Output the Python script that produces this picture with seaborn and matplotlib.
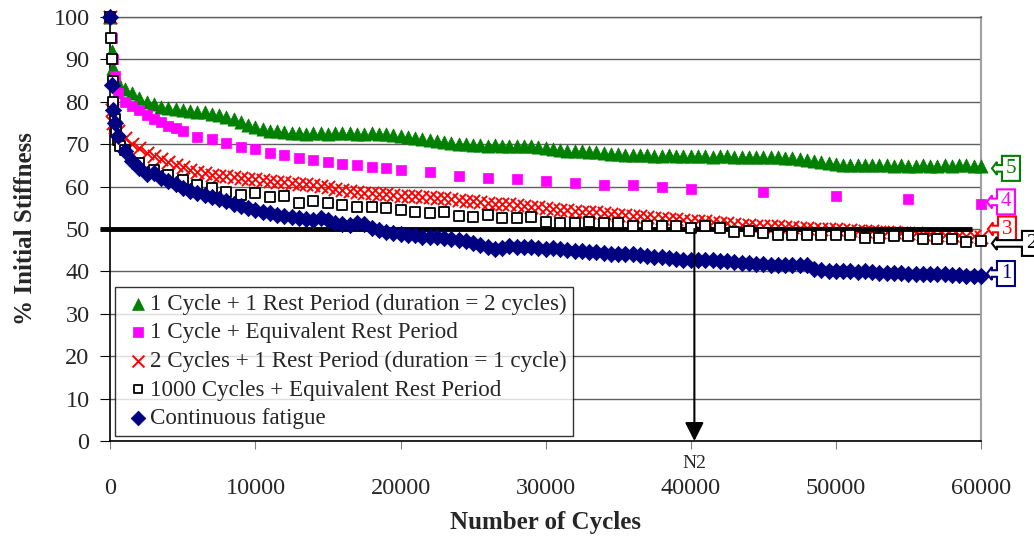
import numpy as np
import matplotlib
matplotlib.use("Agg")
import matplotlib.pyplot as plt
from matplotlib.patches import Polygon
from matplotlib.transforms import IdentityTransform
import seaborn as sns

# cycle grid for the densely sampled tests
early_cycles = [0, 100, 200, 300]
cycles_dense = early_cycles + list(range(500, 60001, 500))

# 1 Cycle + 1 Rest Period (duration = 2 cycles)
green_vals = [100, 92, 88, 86,
              84.5, 83.0, 82.0, 81.0, 80.0, 79.5, 78.8, 78.5, 78.2, 78.0,
              77.8, 77.7, 77.5, 77.2, 77.0, 76.5, 76.0, 75.3, 74.6, 74.0,
              73.5, 73.2, 73.0, 72.8, 72.6, 72.6, 72.5, 72.6, 72.7, 72.5,
              72.6, 72.7, 72.6, 72.5, 72.4, 72.6, 72.5, 72.3, 72.1, 71.9,
              71.7, 71.5, 71.3, 71.1, 70.8, 70.5, 70.3, 70.1, 70.0, 69.8,
              69.7, 69.6, 69.7, 69.6, 69.5, 69.6, 69.5, 69.5, 69.3, 69.0,
              68.8, 68.6, 68.5, 68.4, 68.3, 68.2, 68.1, 67.9, 67.7, 67.6,
              67.5, 67.5, 67.4, 67.5, 67.3, 67.3, 67.4, 67.2, 67.3, 67.2,
              67.2, 67.3, 67.1, 67.2, 67.2, 67.1, 67.0, 67.1, 67.0, 67.0,
              66.9, 66.9, 66.8, 66.7, 66.5, 66.3, 66.1, 65.9, 65.6, 65.4,
              65.2, 65.1, 65.0, 65.1, 65.0, 65.2, 65.0, 64.9, 65.0, 64.9,
              64.9, 65.0, 64.8, 64.9, 65.0, 64.9, 65.0, 65.1, 64.9, 64.8]

# 2 Cycles + 1 Rest Period (duration = 1 cycle)
red_vals = [100, 78, 75, 74,
            73.0, 71.5, 70.0, 69.0, 68.0, 67.2, 66.5, 65.8, 65.2, 64.6,
            64.0, 63.4, 63.1, 62.8, 62.6, 62.4, 62.2, 62.0, 61.8, 61.7,
            61.5, 61.3, 61.1, 61.0, 60.9, 60.7, 60.5, 60.3, 60.1, 59.8,
            59.4, 59.2, 59.0, 58.8, 58.6, 58.5, 58.3, 58.2, 58.0, 57.9,
            57.8, 57.7, 57.6, 57.5, 57.3, 57.2, 57.0, 56.9, 56.7, 56.6,
            56.4, 56.2, 56.0, 55.9, 55.8, 55.6, 55.4, 55.3, 55.1, 54.9,
            54.7, 54.5, 54.4, 54.3, 54.1, 54.0, 53.9, 53.7, 53.5, 53.4,
            53.2, 53.1, 53.0, 52.8, 52.7, 52.6, 52.4, 52.3, 52.1, 52.0,
            51.9, 51.8, 51.7, 51.5, 51.3, 51.2, 51.0, 50.9, 50.8, 50.8,
            50.7, 50.6, 50.5, 50.4, 50.3, 50.2, 50.1, 50.0, 49.9, 49.9,
            49.8, 49.7, 49.6, 49.6, 49.5, 49.4, 49.3, 49.2, 49.1, 49.1,
            49.0, 48.9, 48.8, 48.7, 48.6, 48.6, 48.5, 48.4, 48.3, 48.2]

# Continuous fatigue
navy_vals = [100, 84, 78, 75,
             72.0, 68.5, 66.0, 64.5, 63.0, 63.3, 62.0, 61.3, 60.5, 59.7,
             59.0, 58.5, 58.1, 57.5, 57.0, 56.5, 56.0, 55.4, 55.0, 54.5,
             54.1, 53.7, 53.4, 53.1, 52.8, 52.5, 52.4, 52.2, 52.7, 52.1,
             51.4, 51.2, 51.0, 51.3, 51.2, 50.3, 49.8, 49.4, 49.0, 48.8,
             48.6, 48.5, 48.2, 48.0, 48.1, 47.8, 47.6, 47.4, 47.2, 46.6,
             46.2, 45.8, 45.4, 45.6, 46.0, 45.8, 45.8, 45.7, 45.5, 45.4,
             45.5, 45.4, 45.1, 44.8, 44.7, 44.6, 44.5, 44.3, 44.0, 44.1,
             44.2, 44.0, 43.8, 43.6, 43.4, 43.3, 43.1, 43.0, 42.8, 42.7,
             42.8, 42.6, 42.6, 42.5, 42.4, 42.2, 42.0, 41.9, 41.8, 41.7,
             41.6, 41.5, 41.5, 41.4, 41.6, 41.4, 40.6, 40.3, 40.2, 40.1,
             40.0, 40.0, 39.9, 40.0, 39.8, 39.7, 39.7, 39.6, 39.7, 39.5,
             39.5, 39.4, 39.5, 39.3, 39.3, 39.2, 39.1, 39.0, 38.9, 38.8]

# 1 Cycle + Equivalent Rest Period
pink_cycles = [0, 100, 200, 300, 500, 1000, 1500, 2000, 2500, 3000, 3500, 4000,
               4500, 5000, 6000, 7000, 8000, 9000, 10000, 11000, 12000, 13000,
               14000, 15000, 16000, 17000, 18000, 19000, 20000, 22000, 24000,
               26000, 28000, 30000, 32000, 34000, 36000, 38000, 40000, 45000,
               50000, 55000, 60000]
pink_vals = [100, 95, 90, 86, 82, 80, 79, 78, 77, 76, 75.2, 74.4, 73.8, 73.0,
             71.8, 71.2, 70.3, 69.4, 68.8, 67.9, 67.5, 66.7, 66.3, 65.9, 65.3,
             65.0, 64.7, 64.3, 63.9, 63.4, 62.5, 62.1, 61.7, 61.4, 60.8, 60.4,
             60.4, 60.0, 59.4, 58.8, 57.8, 57.0, 56.0]

# 1000 Cycles + Equivalent Rest Period
black_cycles = [0, 50, 100, 150, 200, 300, 400, 500, 700, 1000] + list(range(2000, 60001, 1000))
black_vals = [100, 95, 90, 85, 80, 76, 73, 71, 69.5, 68.6,
              65.5, 64.0, 62.7, 61.6, 60.4, 59.7, 58.8, 58.0, 58.5, 57.5,
              57.8, 56.2, 56.7, 56.2, 55.7, 55.3, 55.3, 54.9, 54.5, 54.1,
              53.7, 54.1, 53.1, 52.9, 53.3, 52.5, 52.5, 52.9, 51.7, 51.5,
              51.3, 51.6, 51.3, 51.3, 50.7, 50.7, 50.6, 50.7, 50.2, 50.7,
              50.2, 49.4, 49.6, 49.0, 48.6, 48.6, 48.6, 48.6, 48.6, 48.6,
              47.8, 47.8, 48.4, 48.4, 47.6, 47.6, 47.6, 47.0, 47.2]

labels = ["1 Cycle + 1 Rest Period (duration = 2 cycles)",
          "1 Cycle + Equivalent Rest Period",
          "2 Cycles + 1 Rest Period (duration = 1 cycle)",
          "1000 Cycles + Equivalent Rest Period",
          "Continuous fatigue"]

threshold = 50
n2_cycles = 40250
callouts = [("5", "#008000", 64.3, 11, 5),
            ("4", "#FF00FF", 56.4, 6, 5),
            ("3", "#FF0000", 50.0, 7, 5),
            ("2", "black", 46.6, 11, 25),
            ("1", "#000080", 39.5, 6, 5)]

sns.set_style("white")
plt.rcParams['font.family'] = ['Liberation Serif', 'DejaVu Serif']

fig = plt.figure(figsize=(10.34, 5.37), dpi=100)
ax = fig.add_axes([0.1067, 0.1788, 0.842, 0.7895])

common = dict(ax=ax, clip_on=False, legend=False)
h_green = sns.scatterplot(x=cycles_dense, y=green_vals, marker="^", s=9.5 ** 2,
                          color="#008000", edgecolor="#008000", linewidth=0.5,
                          zorder=3, **common).collections[-1]
h_pink = sns.scatterplot(x=pink_cycles, y=pink_vals, marker="s", s=7.5 ** 2,
                         color="#FF00FF", edgecolor="#FF00FF", linewidth=0.5,
                         zorder=3.1, **common).collections[-1]
h_red = sns.scatterplot(x=cycles_dense, y=red_vals, marker="x", s=9.5 ** 2,
                        color="#FF0000", linewidth=1.4, zorder=3.2,
                        **common).collections[-1]
h_black = sns.scatterplot(x=black_cycles, y=black_vals, marker="s", s=7 ** 2,
                          color="white", edgecolor="black", linewidth=1.3,
                          zorder=3.4, **common).collections[-1]
h_navy = sns.scatterplot(x=cycles_dense, y=navy_vals, marker="D", s=8.3 ** 2,
                         color="#000080", edgecolor="#000080", linewidth=0.5,
                         zorder=3.5, **common).collections[-1]

# 50 % stiffness line and N2 arrow
ax.plot([-700, 59400], [threshold, threshold], color="black", lw=3.5,
        solid_capstyle="butt", clip_on=False, zorder=3.3)
ax.annotate("", xy=(n2_cycles, 0), xytext=(n2_cycles, threshold),
            arrowprops=dict(arrowstyle="-|>,head_length=0.75,head_width=0.38",
                            color="black", lw=1.5, mutation_scale=15,
                            shrinkA=0, shrinkB=0), zorder=4)
ax.annotate("N2", xy=(n2_cycles, 0), xytext=(0, -16), textcoords="offset points",
            ha="center", va="center", fontsize=14, annotation_clip=False)

ax.set_xlim(0, 60000)
ax.set_ylim(0, 100)
ax.set_xticks(range(0, 60001, 10000))
ax.set_yticks(range(0, 101, 10))
ax.tick_params(axis="x", direction="out", length=6, color="#808080",
               pad=21, labelsize=17.5, bottom=True)
ax.tick_params(axis="y", direction="out", length=7, color="black",
               pad=8, labelsize=17.5, left=True)
ax.yaxis.grid(True, color="#606060", lw=1)
ax.set_axisbelow(True)
for side in ["left", "bottom"]:
    ax.spines[side].set_color("black")
    ax.spines[side].set_linewidth(1.2)
ax.spines["right"].set_color("#a0a0a0")
ax.spines["right"].set_linewidth(1.5)
ax.spines["top"].set_color("#606060")
ax.spines["top"].set_linewidth(1)

ax.set_xlabel("Number of Cycles", fontsize=18, fontweight="bold", labelpad=8)
ax.set_ylabel("% Initial Stiffness", fontsize=18, fontweight="bold", labelpad=12)

leg = ax.legend([h_green, h_pink, h_red, h_black, h_navy], labels,
                loc="lower left", bbox_to_anchor=(0.0054, 0.0118),
                fontsize=16.6, frameon=True, fancybox=False, borderaxespad=0,
                handlelength=1.36, handletextpad=-0.15, labelspacing=0.32,
                borderpad=0.3, scatterpoints=1, markerscale=0.9)
leg.get_frame().set_edgecolor("black")
leg.get_frame().set_linewidth(1)
leg.set_zorder(5)

# numbered arrow callouts at the curve ends
for num, col, yv, dx, shaft in callouts:
    tx, ty = ax.transData.transform((60000, yv))
    tx += dx
    bx = tx + 5 + shaft
    w, h = 18, 12.5
    pts = [(tx, ty), (tx + 5, ty + 6.5), (tx + 5, ty + 3.3), (bx, ty + 3.3),
           (bx, ty + h), (bx + w, ty + h), (bx + w, ty - h), (bx, ty - h),
           (bx, ty - 3.3), (tx + 5, ty - 3.3), (tx + 5, ty - 6.5)]
    fig.add_artist(Polygon(pts, closed=True, facecolor="white", edgecolor=col,
                           lw=1.5, transform=IdentityTransform(), zorder=6))
    fig.text(bx + w / 2, ty, num, color=col, fontsize=15, ha="center",
             va="center", transform=IdentityTransform(), zorder=7)

fig.savefig("out.png", dpi=100)
